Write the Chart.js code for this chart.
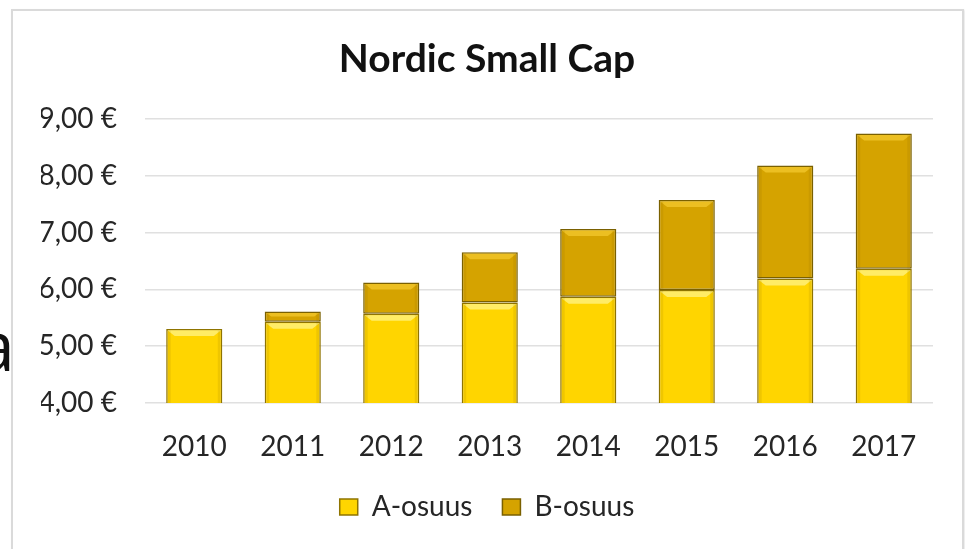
<!DOCTYPE html>
<html>
<head>
<meta charset="utf-8">
<script src="https://cdn.jsdelivr.net/npm/chart.js@4/dist/chart.umd.min.js"></script>
<style>
  html, body { margin: 0; padding: 0; background: #fff; }
  #wrap { position: relative; width: 965px; height: 549px; overflow: hidden; }
  #frame { position: absolute; left: 11px; top: 9px; width: 949px; height: 560px;
           border: 2px solid #dadada; box-shadow: 1px 1px 2px #e6e6e6; }
  #stray { position: absolute; left: -24px; top: 296px; font: 70px "Open Sans", sans-serif; color: #111; }
  #chart { position: absolute; left: 0; top: 0; }
</style>
</head>
<body>
<div id="wrap">
  <div id="stray">a</div>
  <div id="frame"></div>
  <canvas id="chart" width="965" height="549"></canvas>
</div>
<script>
const years = ["2010", "2011", "2012", "2013", "2014", "2015", "2016", "2017"];
const aShare = [5.30, 5.43, 5.57, 5.77, 5.87, 5.99, 6.19, 6.36];
const bShare = [0.00, 0.18, 0.55, 0.88, 1.19, 1.58, 1.99, 2.38];
const yMin = 4;
const yMax = 9;

const FONT = "Lato";

function euro(v) {
  return v.toFixed(2).replace(".", ",") + " €";
}

// light top edge + darker sides, roughly like the Excel bevel
const bevelPlugin = {
  id: "bevel",
  afterDatasetsDraw(chart) {
    const ctx = chart.ctx;
    const area = chart.chartArea;
    ctx.save();
    ctx.beginPath();
    ctx.rect(area.left, area.top, area.right - area.left, area.bottom - area.top);
    ctx.clip();
    chart.getSortedVisibleDatasetMetas().forEach((meta) => {
      const light = meta.index === 0 ? "rgba(255,240,120,0.85)" : "rgba(240,196,40,0.85)";
      meta.data.forEach((bar) => {
        const p = bar.getProps(["x", "y", "base", "width"], true);
        const top = Math.min(p.y, p.base);
        const bottom = Math.max(p.y, p.base);
        if (bottom - top < 3) return;
        const l = p.x - p.width / 2 + 1.5;
        const r = p.x + p.width / 2 - 1.5;
        const b = Math.min(7, (bottom - top) / 2);
        ctx.fillStyle = light;
        ctx.beginPath();
        ctx.moveTo(l, top + 1.5);
        ctx.lineTo(r, top + 1.5);
        ctx.lineTo(r - b, top + b);
        ctx.lineTo(l + b, top + b);
        ctx.closePath();
        ctx.fill();
        ctx.fillStyle = "rgba(120,90,0,0.12)";
        ctx.fillRect(l, top + 1.5, 3, bottom - top);
        ctx.fillRect(r - 3, top + 1.5, 3, bottom - top);
      });
    });
    ctx.restore();
  }
};

function draw() {
  Chart.defaults.font.family = FONT;
  Chart.defaults.color = "#262626";

  new Chart(document.getElementById("chart"), {
    type: "bar",
    data: {
      labels: years,
      datasets: [
        {
          label: "A-osuus",
          data: aShare,
          backgroundColor: "#ffd500",
          borderColor: "#8f7400",
          borderWidth: 1.5,
          borderSkipped: false,
          categoryPercentage: 1,
          barPercentage: 0.57,
        },
        {
          label: "B-osuus",
          data: bShare,
          backgroundColor: "#d5a300",
          borderColor: "#7a6000",
          borderWidth: 1.5,
          borderSkipped: false,
          categoryPercentage: 1,
          barPercentage: 0.57,
        },
      ],
    },
    options: {
      responsive: false,
      animation: false,
      layout: { padding: { left: 41, right: 32, top: 0, bottom: 18 } },
      scales: {
        x: {
          stacked: true,
          grid: { display: false, drawTicks: false },
          border: { display: false },
          ticks: { padding: 27, font: { size: 28 }, color: "#262626", maxRotation: 0 },
          afterFit: (scale) => { scale.height = 60; },
        },
        y: {
          stacked: true,
          min: yMin,
          max: yMax,
          grid: { color: "#e0e0e0", lineWidth: 1.5, drawTicks: false },
          border: { display: false },
          ticks: {
            stepSize: 1,
            padding: 28,
            font: { size: 28 },
            color: "#262626",
            callback: (v) => euro(v),
          },
          afterFit: (scale) => { scale.width = 104; },
        },
      },
      plugins: {
        title: {
          display: true,
          text: "Nordic Small Cap",
          color: "#111",
          font: { size: 39, weight: "bold" },
          padding: { top: 36, bottom: 36 },
        },
        legend: {
          position: "bottom",
          labels: {
            boxWidth: 18,
            boxHeight: 16,
            padding: 30,
            font: { size: 28 },
            color: "#262626",
          },
        },
        tooltip: { enabled: false },
      },
    },
    plugins: [bevelPlugin],
  });
}

document.fonts.load("28px " + FONT).then(draw, draw);
</script>
</body>
</html>
